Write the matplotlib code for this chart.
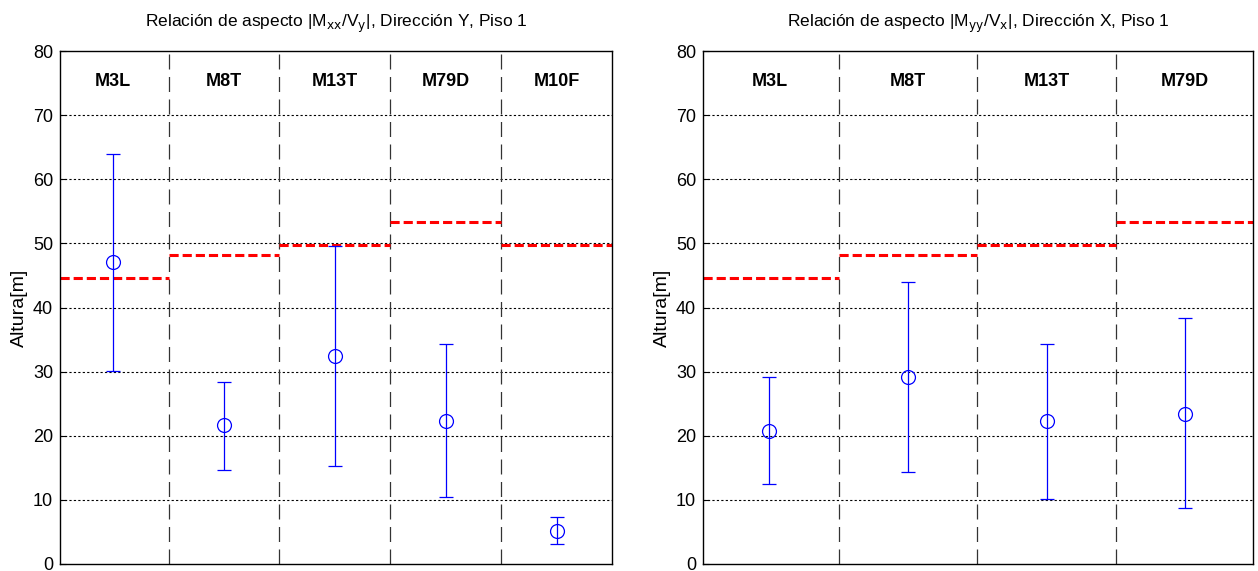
import numpy as np
import matplotlib
matplotlib.use("Agg")
import matplotlib.pyplot as plt

plt.rcParams['font.family'] = ['Liberation Sans', 'DejaVu Sans']

# Direccion Y
names_y = ['M3L', 'M8T', 'M13T', 'M79D', 'M10F']
mean_y = [47.1, 21.7, 32.4, 22.3, 5.1]
low_y = [30.1, 14.7, 15.3, 10.5, 3.1]
high_y = [64.0, 28.4, 49.6, 34.3, 7.3]
height_y = [44.6, 48.2, 49.8, 53.3, 49.8]

# Direccion X
names_x = ['M3L', 'M8T', 'M13T', 'M79D']
mean_x = [20.8, 29.1, 22.3, 23.4]
low_x = [12.4, 14.3, 10.1, 8.7]
high_x = [29.1, 44.0, 34.3, 38.3]
height_x = [44.6, 48.2, 49.8, 53.3]


def panel(ax, names, mean, low, high, height, xlim, title):
    n = len(names)
    x = np.arange(1, n + 1)
    mean = np.array(mean)
    yerr = [mean - np.array(low), np.array(high) - mean]
    ax.set_xlim(xlim)
    ax.set_ylim(0, 80)
    ax.set_yticks(np.arange(0, 81, 10))
    ax.set_xticks([])
    ax.tick_params(axis='y', direction='in', labelsize=13, length=4, pad=5)
    for yv in range(10, 80, 10):
        ax.axhline(yv, color='black', ls=(0, (2, 2)), lw=0.8, zorder=1)
    for i in range(n - 1):
        ax.axvline(x[i] + 0.5, color='#333333', ls=(0, (12, 6)), lw=0.9, zorder=1)
    edges = [xlim[0]] + [xi + 0.5 for xi in x[:-1]] + [xlim[1]]
    for i in range(n):
        ax.plot([edges[i], edges[i + 1]], [height[i], height[i]], color='red',
                ls=(0, (3, 1.3)), lw=2.2, zorder=2)
        ax.text(x[i], 75.2, names[i], ha='center', va='center',
                fontsize=13, fontweight='bold')
    ax.errorbar(x, mean, yerr=yerr, fmt='o', color='blue', mfc='none',
                ms=10, mew=0.9, elinewidth=0.9, capsize=5, capthick=0.9, zorder=3)
    ax.set_ylabel('Altura[m]', fontsize=14)
    ax.yaxis.set_label_coords(-0.058, 0.5)
    ax.set_title(title, fontsize=12.5, pad=17)
    for s in ax.spines.values():
        s.set_linewidth(1.0)


fig = plt.figure(figsize=(12.58, 5.71), dpi=100)
ax1 = fig.add_axes([60 / 1258, 7 / 571, 552 / 1258, 513 / 571])
ax2 = fig.add_axes([703 / 1258, 7 / 571, 550 / 1258, 513 / 571])

panel(ax1, names_y, mean_y, low_y, high_y, height_y, (0.52, 5.5),
      r'Relación de aspecto |M$_{\mathrm{xx}}$/V$_{\mathrm{y}}$|, Dirección Y, Piso 1')
panel(ax2, names_x, mean_x, low_x, high_x, height_x, (0.52, 4.49),
      r'Relación de aspecto |M$_{\mathrm{yy}}$/V$_{\mathrm{x}}$|, Dirección X, Piso 1')

fig.savefig('out.png', dpi=100)
